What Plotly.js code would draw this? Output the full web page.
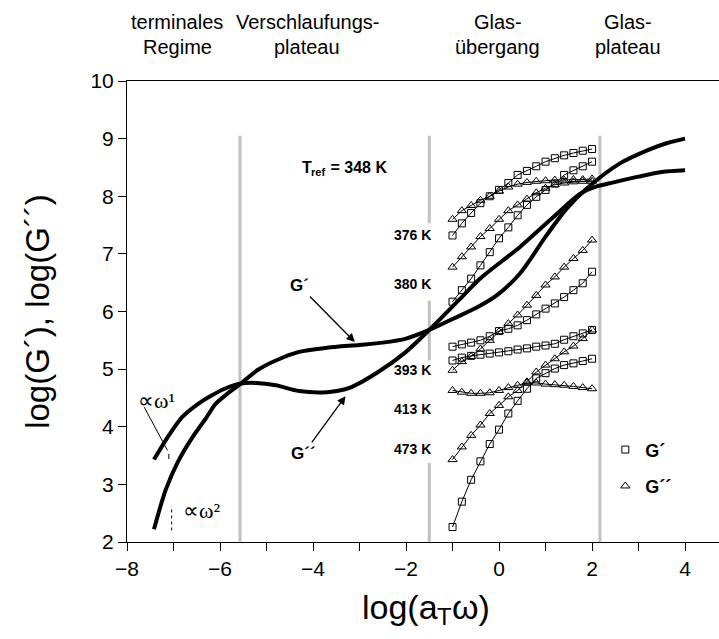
<!DOCTYPE html>
<html>
<head>
<meta charset="utf-8">
<script src="https://cdn.plot.ly/plotly-3.0.1.min.js"></script>
<style>html,body{margin:0;padding:0;background:#fff;}#chart{width:719px;height:639px;}</style>
</head>
<body>
<div id="chart"></div>
<script>
// ---- data ----
const xMeas = [-1.0,-0.8,-0.6,-0.4,-0.2,0.0,0.2,0.4,0.6,0.8,1.0,1.2,1.4,1.6,1.8,2.0];
const T376_Gp  = [7.32,7.53,7.71,7.88,8.00,8.11,8.23,8.37,8.44,8.52,8.60,8.66,8.71,8.75,8.79,8.82];
const T376_Gpp = [7.60,7.75,7.84,7.93,8.00,8.09,8.16,8.21,8.24,8.26,8.27,8.28,8.28,8.29,8.29,8.30];
const T380_Gp  = [6.17,6.37,6.57,6.80,7.03,7.27,7.46,7.67,7.85,7.99,8.11,8.22,8.37,8.45,8.52,8.60];
const T380_Gpp = [6.77,6.95,7.12,7.30,7.44,7.60,7.75,7.85,7.95,8.06,8.14,8.20,8.23,8.25,8.26,8.26];
const T393_Gp  = [5.39,5.43,5.46,5.50,5.57,5.66,5.70,5.76,5.85,5.95,6.05,6.14,6.25,6.37,6.49,6.69];
const T393_Gpp = [4.98,5.13,5.22,5.35,5.50,5.65,5.79,5.94,6.11,6.28,6.46,6.60,6.77,6.92,7.06,7.24];
const T413_Gp  = [5.15,5.20,5.23,5.25,5.27,5.29,5.31,5.34,5.36,5.39,5.41,5.44,5.51,5.57,5.62,5.68];
const T413_Gpp = [4.63,4.60,4.58,4.58,4.59,4.63,4.68,4.72,4.76,4.76,4.74,4.73,4.72,4.70,4.68,4.66];
const T473_Gp  = [2.26,2.70,3.08,3.40,3.70,3.95,4.23,4.45,4.66,4.84,4.93,5.01,5.07,5.10,5.14,5.18];
const T473_Gpp = [3.43,3.65,3.85,4.03,4.23,4.37,4.52,4.63,4.78,4.95,5.07,5.18,5.30,5.40,5.53,5.68];

const masterGpX = [-7.42,-7.17,-6.9,-6.59,-6.3,-6.09,-5.8,-5.55,-5.2,-4.8,-4.3,-3.7,-3.0,-2.5,-2.0,-1.5,-1.0,-0.5,-0.05,0.45,1.02,1.45,1.88,2.6,3.2,3.6,4.0];
const masterGpY = [2.22,2.90,3.40,3.82,4.15,4.40,4.60,4.75,4.98,5.15,5.30,5.37,5.42,5.46,5.53,5.68,5.87,6.06,6.28,6.66,7.32,7.78,8.13,8.57,8.80,8.92,9.00];
const masterGppX = [-7.42,-7.1,-6.81,-6.5,-6.23,-5.9,-5.55,-5.23,-4.8,-4.3,-3.7,-3.2,-2.6,-2.0,-1.5,-0.85,-0.41,0.45,1.17,1.74,2.1,2.46,3.0,3.5,4.0];
const masterGppY = [3.43,3.85,4.17,4.38,4.52,4.66,4.75,4.76,4.72,4.62,4.60,4.68,4.95,5.30,5.68,6.21,6.57,7.12,7.64,8.04,8.17,8.24,8.34,8.42,8.45];

const tempLabels = ['376 K','380 K','393 K','413 K','473 K'];
const tempLabelY = [7.32,6.47,4.98,4.30,3.61];
const regionLine1 = ['terminales','Verschlaufungs-','Glas-','Glas-'];
const regionLine2 = ['Regime','plateau','übergang','plateau'];
const regionLabelX = [-6.92,-4.12,-0.03,2.78];
const legendNames = ['G´','G´´'];
const xTitleParts = ['log(a','T','ω)'];
const trefParts = ['T','ref',' = 348 K'];
const yTitle = 'log(G´), log(G´´)';

// ---- traces ----
const traces = [];
const sq = {symbol:'square-open', size:7, color:'#000', line:{width:1,color:'#000'}};
const tri = {symbol:'triangle-up-open', size:8, color:'#000', line:{width:1,color:'#000'}};
const series = [
  [T376_Gp,sq],[T376_Gpp,tri],[T380_Gp,sq],[T380_Gpp,tri],[T393_Gp,sq],
  [T393_Gpp,tri],[T413_Gp,sq],[T413_Gpp,tri],[T473_Gp,sq],[T473_Gpp,tri]
];
series.forEach(([ys,m])=>{
  traces.push({x:xMeas, y:ys, mode:'lines+markers', type:'scatter',
    line:{color:'#000', width:1}, marker:m, showlegend:false, hoverinfo:'skip'});
});
traces.push({x:masterGpX, y:masterGpY, mode:'lines', line:{color:'#000', width:4, shape:'spline', smoothing:0.8}, showlegend:false});
traces.push({x:masterGppX, y:masterGppY, mode:'lines', line:{color:'#000', width:4, shape:'spline', smoothing:0.8}, showlegend:false});
// legend-only entries
traces.push({x:[null], y:[null], mode:'markers', marker:sq, name:'<b>'+legendNames[0]+'</b>', legendgroup:'a', showlegend:true});
traces.push({x:[null], y:[null], mode:'markers', marker:tri, name:'<b>'+legendNames[1]+'</b>', legendgroup:'b', showlegend:true});

// ---- shapes ----
const gray = {color:'#c0c0c0', width:3};
const shapes = [
  {type:'line', xref:'x', yref:'y', x0:-5.57, x1:-5.57, y0:2, y1:9.05, line:gray, layer:'below'},
  {type:'line', xref:'x', yref:'y', x0:-1.5, x1:-1.5, y0:7.53, y1:9.05, line:gray, layer:'below'},
  {type:'line', xref:'x', yref:'y', x0:-1.5, x1:-1.5, y0:5.15, y1:6.19, line:gray, layer:'below'},
  {type:'line', xref:'x', yref:'y', x0:-1.5, x1:-1.5, y0:2, y1:3.37, line:gray, layer:'below'},
  {type:'line', xref:'x', yref:'y', x0:2.17, x1:2.17, y0:2, y1:9.05, line:gray, layer:'below'},
  {type:'line', xref:'x', yref:'y', x0:-7.63, x1:-7.13, y0:4.34, y1:3.59, line:{color:'#000', width:1}},
  {type:'line', xref:'x', yref:'y', x0:-7.1, x1:-7.1, y0:3.44, y1:3.53, line:{color:'#000', width:1}},
  {type:'line', xref:'x', yref:'y', x0:-7.04, x1:-7.04, y0:2.2, y1:2.62, line:{color:'#000', width:1, dash:'dot'}}
];

// ---- annotations ----
const ann = [];
tempLabels.forEach((t,i)=>{
  ann.push({x:-1.43, y:tempLabelY[i], xref:'x', yref:'y', text:'<b>'+t+'</b>', showarrow:false,
    xanchor:'right', yanchor:'middle', font:{size:14, color:'#000'}});
});
regionLine1.forEach((t,i)=>{
  ann.push({x:regionLabelX[i], y:1.127, xref:'x', yref:'paper', text:t, showarrow:false,
    xanchor:'center', yanchor:'middle', font:{size:20, color:'#000'}});
  ann.push({x:regionLabelX[i], y:1.073, xref:'x', yref:'paper', text:regionLine2[i], showarrow:false,
    xanchor:'center', yanchor:'middle', font:{size:20, color:'#000'}});
});
// T_ref label built from pieces (subscript as its own smaller text)
ann.push({x:-4.27, y:8.5, xref:'x', yref:'y', text:'<b>'+trefParts[0]+'</b>', showarrow:false, xanchor:'left', yanchor:'middle',
  font:{size:16,color:'#000'}});
ann.push({x:-4.27, y:8.5, xref:'x', yref:'y', text:'<b>'+trefParts[1]+'</b>', showarrow:false, xanchor:'left', yanchor:'middle',
  xshift:9, yshift:-5, font:{size:11,color:'#000'}});
ann.push({x:-4.27, y:8.5, xref:'x', yref:'y', text:'<b>'+trefParts[2]+'</b>', showarrow:false, xanchor:'left', yanchor:'middle',
  xshift:24, font:{size:16,color:'#000'}});
// arrows with labels
ann.push({x:-3.1, y:5.47, ax:-4.3, ay:6.45, xref:'x', yref:'y', axref:'x', ayref:'y', text:'<b>G´</b>', showarrow:true,
  arrowhead:2, arrowsize:1.3, arrowwidth:1.3, arrowcolor:'#000', standoff:0, font:{size:17,color:'#000'}});
ann.push({x:-3.3, y:4.53, ax:-4.2, ay:3.54, xref:'x', yref:'y', axref:'x', ayref:'y', text:'<b>G´´</b>', showarrow:true,
  arrowhead:2, arrowsize:1.3, arrowwidth:1.3, arrowcolor:'#000', standoff:0, font:{size:17,color:'#000'}});
ann.push({x:-7.8, y:4.46, xref:'x', yref:'y', text:'∝ω¹', showarrow:false, xanchor:'left',
  font:{size:22, family:'Liberation Serif, Times New Roman, serif', color:'#000'}});
ann.push({x:-6.84, y:2.55, xref:'x', yref:'y', text:'∝ω²', showarrow:false, xanchor:'left',
  font:{size:22, family:'Liberation Serif, Times New Roman, serif', color:'#000'}});
// x-axis title built from pieces
ann.push({x:0.394, y:-0.142, xref:'paper', yref:'paper', text:xTitleParts[0], showarrow:false, xanchor:'left', yanchor:'middle',
  font:{size:34,color:'#000'}});
ann.push({x:0.394, y:-0.142, xref:'paper', yref:'paper', text:xTitleParts[1], showarrow:false, xanchor:'left', yanchor:'middle',
  xshift:75, yshift:-9, font:{size:24,color:'#000'}});
ann.push({x:0.394, y:-0.142, xref:'paper', yref:'paper', text:xTitleParts[2], showarrow:false, xanchor:'left', yanchor:'middle',
  xshift:90, font:{size:34,color:'#000'}});

const layout = {
  width:719, height:639,
  margin:{l:127, r:0, t:81, b:97, pad:0},
  paper_bgcolor:'#fff', plot_bgcolor:'#fff',
  font:{family:'Liberation Sans, Arial, sans-serif', color:'#000'},
  xaxis:{range:[-8,4.73], tick0:-8, dtick:2, ticks:'outside', ticklen:8, tickwidth:1,
    tickcolor:'#000', showline:true, linecolor:'#000', linewidth:1, mirror:true, showgrid:false, zeroline:false,
    tickfont:{size:21},
    minor:{tick0:-8, dtick:1, ticks:'outside', ticklen:8, tickwidth:1, tickcolor:'#000', showgrid:false}},
  yaxis:{range:[2,10], tick0:2, dtick:1, ticks:'outside', ticklen:8, tickwidth:1, tickcolor:'#000',
    showline:true, linecolor:'#000', linewidth:1, showgrid:false, zeroline:false, tickfont:{size:21},
    title:{text:yTitle, font:{size:33}, standoff:30}},
  showlegend:true,
  legend:{x:0.808, y:0.24, xanchor:'left', yanchor:'top', bgcolor:'rgba(0,0,0,0)', font:{size:18},
    traceorder:'grouped', tracegroupgap:10},
  shapes:shapes, annotations:ann
};
Plotly.newPlot('chart', traces, layout, {displayModeBar:false, staticPlot:true});
</script>
</body>
</html>
